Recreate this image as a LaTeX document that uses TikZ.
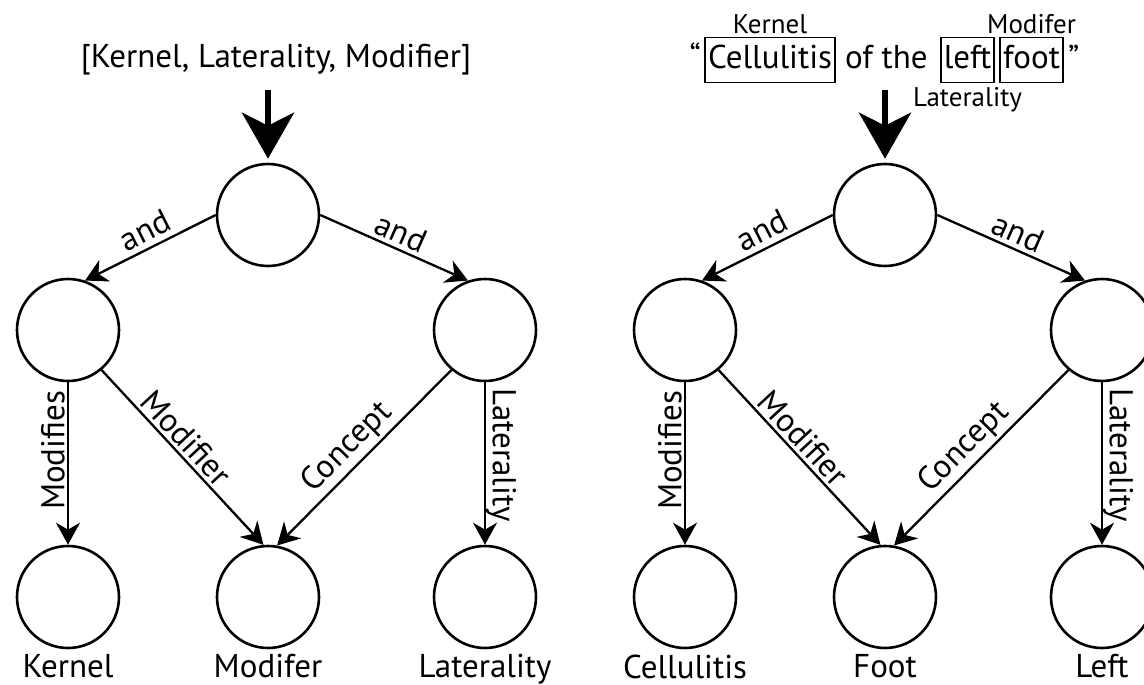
\documentclass[tikz,border=0pt]{standalone}
\usepackage{fontspec}
\setmainfont{PT Sans}
\usetikzlibrary{arrows.meta,positioning}

\begin{document}
\begin{tikzpicture}[x=1pt,y=-1pt,
    state/.style={circle,draw,line width=2.6pt,fill=white,minimum size=102pt,inner sep=0pt},
    rel/.style={line width=2.3pt,-{Stealth[length=22pt,width=24pt,inset=7pt]}},
    lbl/.style={font=\fontsize{33}{33}\selectfont,inner sep=2pt},
    bigarrow/.style={line width=6pt,-{Stealth[length=46pt,width=52pt,inset=13pt]},shorten >=4pt},
    word/.style={font=\fontsize{33}{33}\selectfont,text height=24pt,text depth=7pt,inner xsep=3pt,inner ysep=7pt},
    wordbox/.style={word,draw,line width=1.8pt},
    tag/.style={font=\fontsize{27}{27}\selectfont,inner sep=1pt}]
  \clip (0,0) rectangle (1144,685);
  \fill[white] (0,0) rectangle (1144,685);

  % Both graphs
  \foreach \dx/\t in {0/a,617/b}{
    \node[state] (root\t) at (268+\dx,215) {};
    \node[state] (left\t) at (68+\dx,330) {};
    \node[state] (right\t) at (485+\dx,330) {};
    \node[state] (kern\t) at (68+\dx,597) {};
    \node[state] (mod\t) at (268+\dx,597) {};
    \node[state] (lat\t) at (485+\dx,597) {};

    \draw[rel] (root\t.west) -- node[lbl,sloped,above,inner sep=5pt,pos=0.48] {and} (left\t.71);
    \draw[rel] (root\t.east) -- node[lbl,sloped,above,inner sep=4pt,pos=0.5] {and} (right\t.109);
    \draw[rel] (left\t.south) -- node[lbl,rotate=90,anchor=south,pos=0.42] {Modifies} (kern\t.north);
    \draw[rel] (left\t.-50) -- node[lbl,sloped,above,inner sep=3pt,pos=0.45] {Modifier} (mod\t.95);
    \draw[rel] (right\t.-130) -- node[lbl,sloped,above,inner sep=3pt,pos=0.52] {Concept} (mod\t.80);
    \draw[rel] (right\t.south) -- node[lbl,rotate=-90,anchor=south,inner sep=0pt,pos=0.45] {Laterality} (lat\t.north);

    \coordinate (in\t) at (268+\dx,90);
    \draw[bigarrow] (in\t) -- (root\t);
  }

  % Left: the list of roles
  \node[lbl] (roles) at (276,60) {[Kernel, Laterality, Modifier]};
  \node[lbl,below=3pt of kerna] (kernname) {Kernel};
  \node[lbl,below=3pt of moda] (modname) {Modifer};
  \node[lbl,below=3pt of lata] (latname) {Laterality};

  % Right: the phrase
  \node[wordbox] (cell) at (770,60) {Cellulitis};
  \node[word,left=0pt of cell] (lq) {“};
  \node[word,right=6pt of cell] (ofthe) {of the};
  \node[wordbox,right=9pt of ofthe] (leftw) {left};
  \node[wordbox,right=4pt of leftw] (foot) {foot};
  \node[word,right=1pt of foot] (rq) {”};
  \node[tag,above=2pt of cell] (kerntag) {Kernel};
  \node[tag,above=2pt of foot] (modtag) {Modifer};
  \node[tag,below=3pt of leftw] (lattag) {Laterality};
  \node[lbl,below=3pt of kernb] (cellname) {Cellulitis};
  \node[lbl,below=3pt of modb] (footname) {Foot};
  \node[lbl,below=3pt of latb] (leftname) {Left};
\end{tikzpicture}
\end{document}
